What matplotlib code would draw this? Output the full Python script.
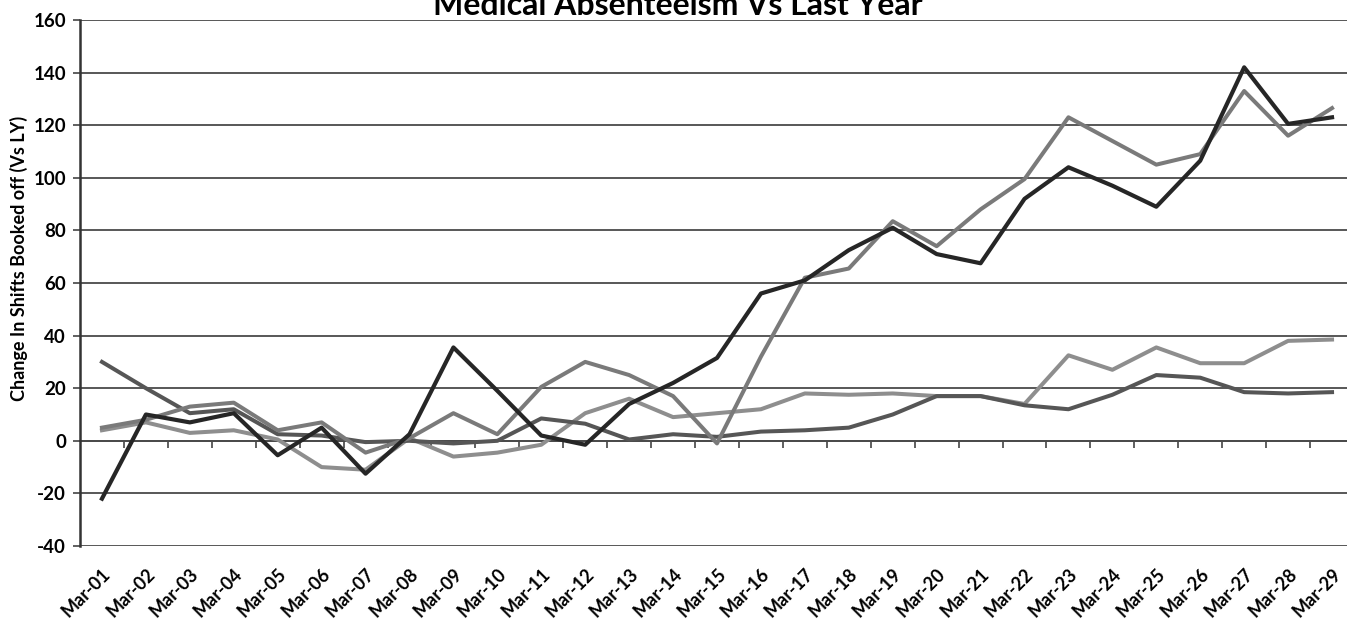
import numpy as np
import matplotlib
matplotlib.use("Agg")
import matplotlib.pyplot as plt

plt.rcParams['font.family'] = ['Lato', 'DejaVu Sans']
plt.rcParams['font.weight'] = 'bold'
plt.rcParams['axes.unicode_minus'] = False

# дни марта
days = ['Mar-%02d' % d for d in range(1, 30)]

# значения серий
series_a = [-22, 10, 7, 10.5, -5.5, 5, -12.5, 2.5, 35.5, 19, 2, -1.5, 14, 22, 31.5,
            56, 61, 72.5, 81, 71, 67.5, 92, 104, 97, 89, 106.5, 142, 120.5, 123]
series_b = [5, 8, 13, 14.5, 4, 7, -4.5, 1, 10.5, 2.5, 20.5, 30, 25, 17, -1,
            32, 62, 65.5, 83.5, 74, 88, 99.5, 123, 114, 105, 109, 133, 116, 126.5]
series_c = [4, 7, 3, 4, 0.5, -10, -11, 1, -6, -4.5, -1.5, 10.5, 16, 9, 10.5,
            12, 18, 17.5, 18, 17, 17, 14, 32.5, 27, 35.5, 29.5, 29.5, 38, 38.5]
series_d = [30, 20, 10.5, 12, 2.5, 2, -0.5, 0, -1, 0, 8.5, 6.5, 0.5, 2.5, 1.5,
            3.5, 4, 5, 10, 17, 17, 13.5, 12, 17.5, 25, 24, 18.5, 18, 18.5]

W, H = 1347, 624
fig = plt.figure(figsize=(W / 100, H / 100), dpi=100)
ax = fig.add_axes([80 / W, 1 - 546 / H, (1354 - 80) / W, (546 - 20) / H])

x = np.arange(len(days))
ax.plot(x, series_c, color='#8e8e8e', lw=2.9, zorder=3)
ax.plot(x, series_d, color='#565656', lw=2.9, zorder=3)
ax.plot(x, series_b, color='#7a7a7a', lw=2.9, zorder=4)
ax.plot(x, series_a, color='#262626', lw=3.0, zorder=5)

ax.set_xlim(-0.5, 28.5)
ax.set_ylim(-40, 160)
ax.set_yticks(range(-40, 161, 20))
ax.yaxis.grid(True, color='#4a4a4a', lw=1.3)
ax.set_axisbelow(True)

for s in ['top', 'right', 'bottom']:
    ax.spines[s].set_visible(False)
ax.spines['left'].set_color('#333333')
ax.spines['left'].set_linewidth(1.8)

ax.tick_params(axis='y', length=5, width=1.2, color='#444444', labelsize=13.5, pad=5)
ax.set_xticks(x)
ax.set_xticklabels(days, rotation=45, ha='right', rotation_mode='anchor')
ax.tick_params(axis='x', length=0, labelsize=13, pad=14)

# ось X проходит через ноль
sec = ax.secondary_xaxis(0.2)
sec.set_xticks(np.arange(0.5, 28, 1))
sec.tick_params(axis='x', length=5, width=1.2, color='#444444', labelbottom=False)
sec.spines['bottom'].set_color('#4a4a4a')
sec.spines['bottom'].set_linewidth(1.3)

fig.text(0.503, 1 - 15 / H, 'Medical Absenteeism Vs Last Year', ha='center',
         va='baseline', fontsize=23, fontweight='bold')
fig.text(19 / W, 1 - 258 / H, 'Change In Shifts Booked off (Vs LY)', rotation=90,
         ha='center', va='center', fontsize=13, fontweight='bold')

fig.savefig('out.png', dpi=100)
